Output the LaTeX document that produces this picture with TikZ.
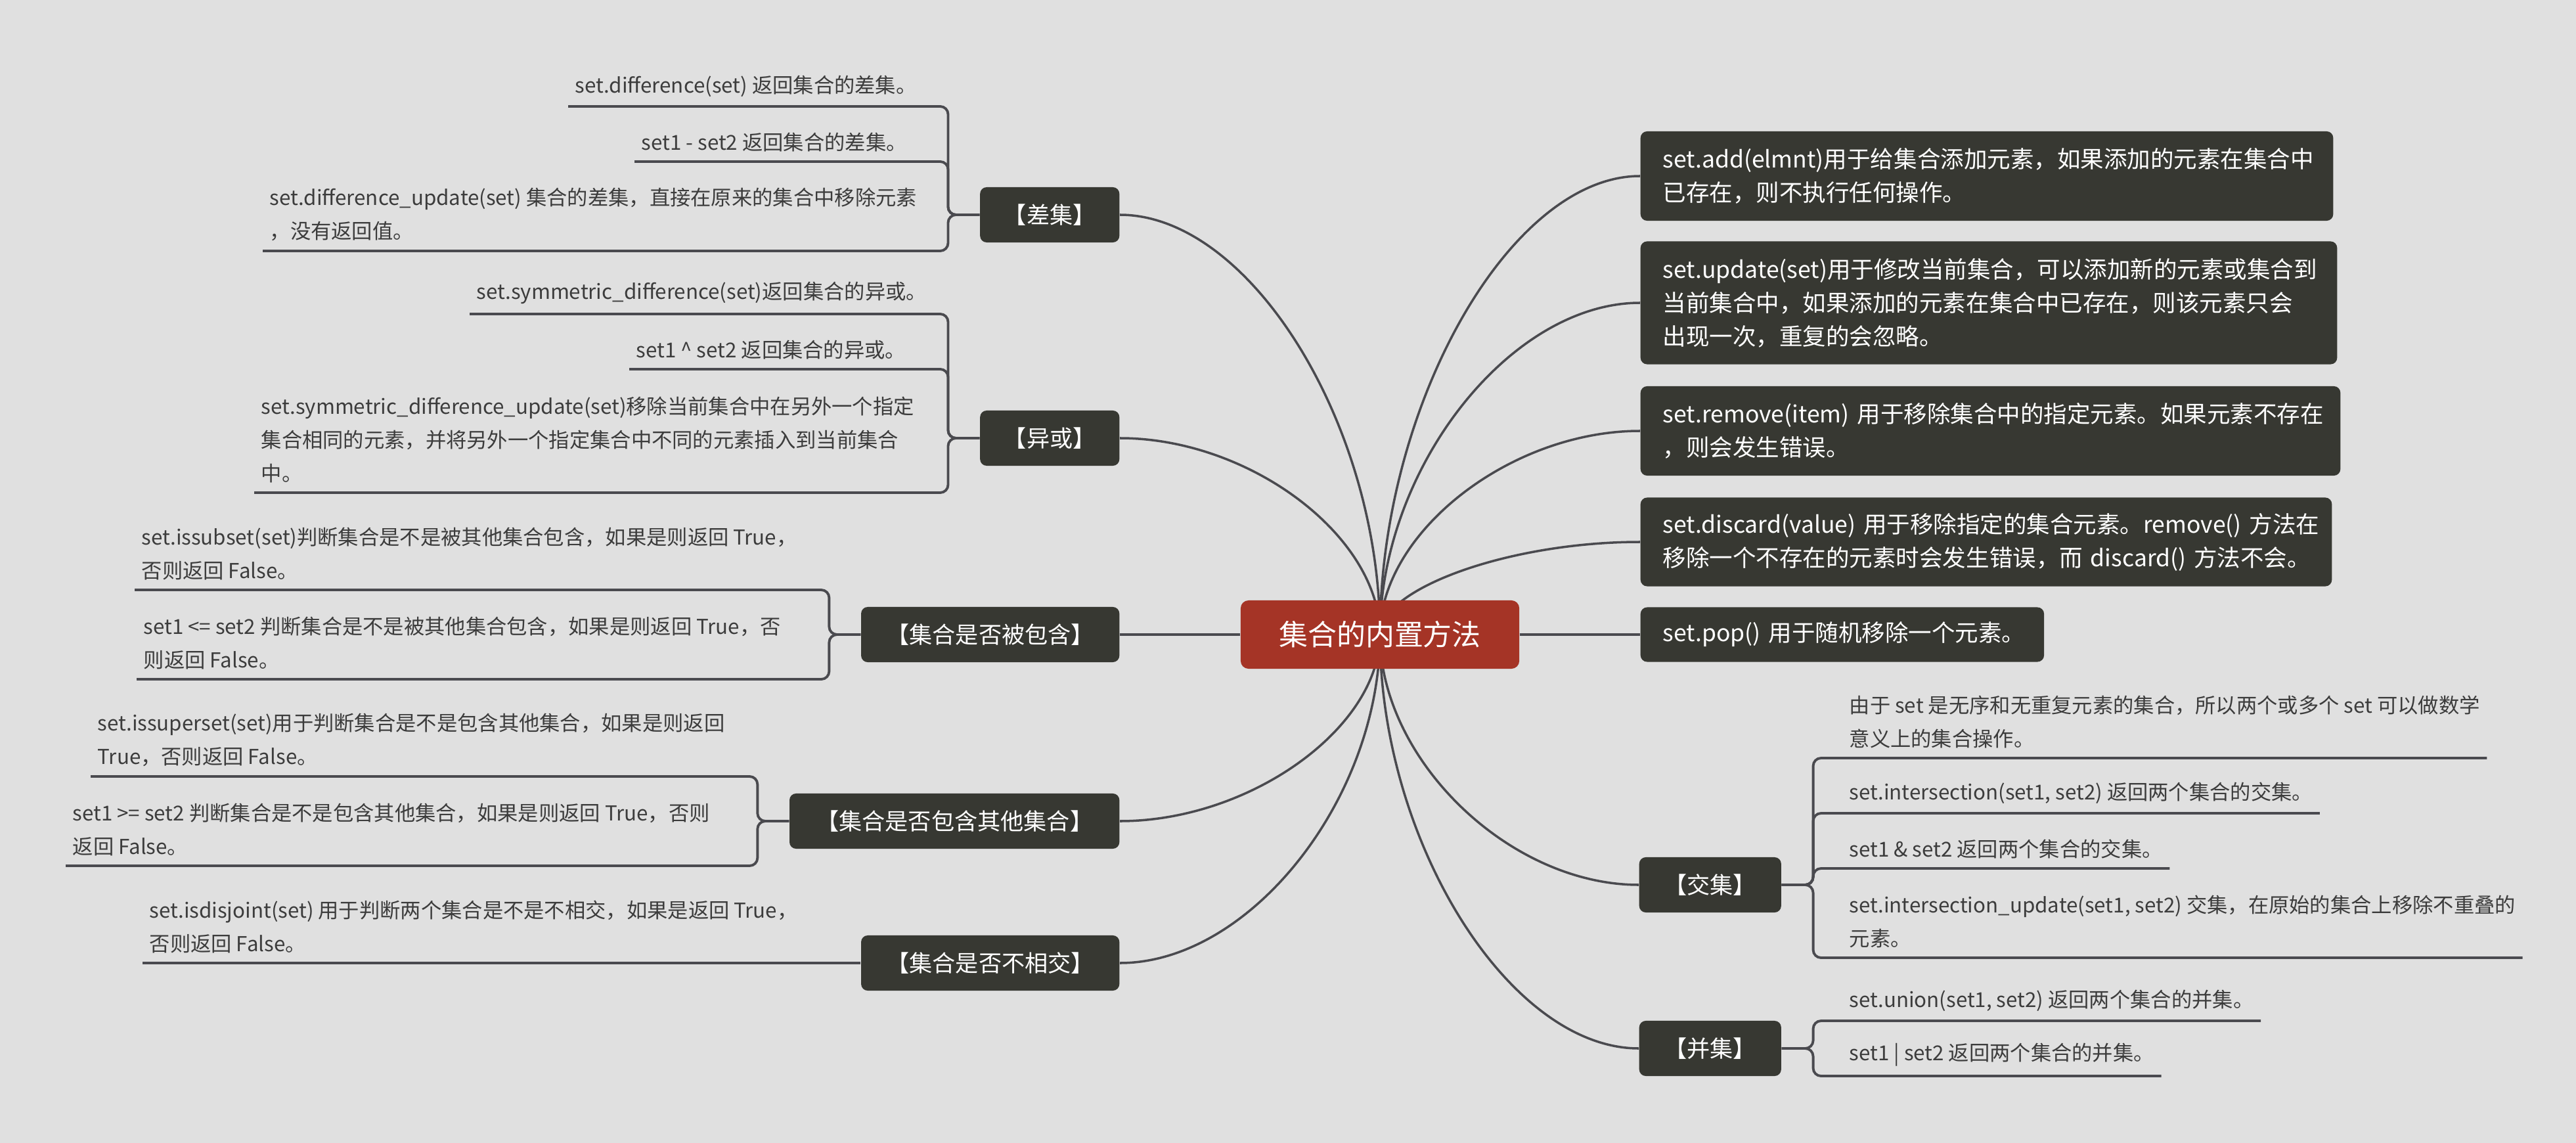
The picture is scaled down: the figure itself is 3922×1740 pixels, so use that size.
\documentclass[tikz,border=0pt]{standalone}
\usepackage{fontspec}
\setmainfont{Noto Sans CJK SC}
\usetikzlibrary{calc}
\hyphenpenalty=10000
\definecolor{paper}{HTML}{E0E0E0}
\definecolor{boxdark}{HTML}{373832}
\definecolor{rootred}{HTML}{A53426}
\definecolor{wire}{HTML}{4A4A4F}
\definecolor{ink}{HTML}{3C3C3C}
\pgfdeclarelayer{bg}
\pgfsetlayers{bg,main}
\begin{document}
\begin{tikzpicture}[x=0.01cm, y=-0.01cm,
  rootbox/.style={fill=rootred, text=white, rounded corners=0.12cm,
    minimum width=4.24cm, minimum height=1.04cm,
    font=\fontsize{12.5pt}{15pt}\selectfont},
  topicbox/.style={fill=boxdark, text=white, rounded corners=0.1cm, inner sep=0pt,
    minimum height=0.84cm, font=\fontsize{10pt}{12pt}\selectfont},
  notebox/.style={fill=boxdark, text=white, rounded corners=0.1cm, anchor=west,
    align=left, inner xsep=0.34cm, inner ysep=0pt,
    font=\fontsize{10.1pt}{14.5pt}\selectfont},
  leaftext/.style={text=ink, align=left, anchor=south west, inner xsep=0.1cm,
    inner ysep=0.14cm, font=\fontsize{8.9pt}{14.5pt}\selectfont},
  curvy/.style={to path={let \p1=(\tikztostart), \p2=(\tikztotarget) in
    .. controls (\x1,{(\y1+\y2)/2}) and ({(\x1+\x2)/2},\y2) .. (\tikztotarget)}},
  mainline/.style={draw=wire, line width=1pt},
  subline/.style={draw=wire, line width=1.1pt, rounded corners=0.12cm}]

  \begin{pgfonlayer}{bg}
    \fill[paper] (0,0) rectangle (3922,1740);
  \end{pgfonlayer}
  \useasboundingbox (0,0) rectangle (3922,1740);

  % 中心主题
  \node[rootbox] (root) at (2101,966) {集合的内置方法};

  % 右侧: 说明框
  \node[notebox, text width=9.86cm, minimum height=1.36cm] (add) at (2497,268)
    {set.add(elmnt)用于给集合添加元素，如果添加的元素在集合中\\已存在，则不执行任何操作。};
  \node[notebox, text width=9.92cm, minimum height=1.87cm] (upd) at (2497,461)
    {set.update(set)用于修改当前集合，可以添加新的元素或集合到\\当前集合中，如果添加的元素在集合中已存在，则该元素只会\\出现一次，重复的会忽略。};
  \node[notebox, text width=9.97cm, minimum height=1.36cm] (rem) at (2497,656)
    {set.remove(item)~用于移除集合中的指定元素。如果元素不存在\\，则会发生错误。};
  \node[notebox, text width=9.84cm, minimum height=1.35cm] (dis) at (2497,825)
    {set.discard(value)~用于移除指定的集合元素。remove()~方法在\\移除一个不存在的元素时会发生错误，而~discard()~方法不会。};
  \node[notebox, text width=5.46cm, minimum height=0.83cm] (pop) at (2497,966)
    {set.pop()~用于随机移除一个元素。};

  % 分支主题
  \node[topicbox, minimum width=2.12cm, anchor=east] (cha) at (1705,327) {【差集】};
  \node[topicbox, minimum width=2.12cm, anchor=east] (yih) at (1705,667) {【异或】};
  \node[topicbox, minimum width=3.93cm, anchor=east] (bei) at (1705,966) {【集合是否被包含】};
  \node[topicbox, minimum width=5.02cm, anchor=east] (bao) at (1705,1250) {【集合是否包含其他集合】};
  \node[topicbox, minimum width=3.93cm, anchor=east] (bxj) at (1705,1466) {【集合是否不相交】};
  \node[topicbox, minimum width=2.16cm, anchor=west] (jiao) at (2495,1347) {【交集】};
  \node[topicbox, minimum width=2.16cm, anchor=west] (bing) at (2495,1596) {【并集】};

  % 差集
  \node[leaftext] (cha1) at (865,162) {set.difference(set) 返回集合的差集。};
  \node[leaftext] (cha2) at (966,246) {set1 - set2 返回集合的差集。};
  \node[leaftext] (cha3) at (400,382)
    {set.difference\_update(set) 集合的差集，直接在原来的集合中移除元素\\，没有返回值。};
  % 异或
  \node[leaftext] (yih1) at (715,478) {set.symmetric\_difference(set)返回集合的异或。};
  \node[leaftext] (yih2) at (958,562) {set1 \textasciicircum{} set2 返回集合的异或。};
  \node[leaftext] (yih3) at (387,750)
    {set.symmetric\_difference\_update(set)移除当前集合中在另外一个指定\\集合相同的元素，并将另外一个指定集合中不同的元素插入到当前集合\\中。};
  % 子集 / 超集 / 不相交
  \node[leaftext] (bei1) at (205,898)
    {set.issubset(set)判断集合是不是被其他集合包含，如果是则返回 True，\\否则返回 False。};
  \node[leaftext] (bei2) at (208,1034)
    {set1 <= set2 判断集合是不是被其他集合包含，如果是则返回 True，否\\则返回 False。};
  \node[leaftext] (bao1) at (138,1182)
    {set.issuperset(set)用于判断集合是不是包含其他集合，如果是则返回\\True，否则返回 False。};
  \node[leaftext] (bao2) at (100,1318)
    {set1 >= set2 判断集合是不是包含其他集合，如果是则返回 True，否则\\返回 False。};
  \node[leaftext] (bxj1) at (217,1466)
    {set.isdisjoint(set) 用于判断两个集合是不是不相交，如果是返回 True，\\否则返回 False。};
  % 交集
  \node[leaftext] (jiao1) at (2805,1154)
    {由于 set 是无序和无重复元素的集合，所以两个或多个 set 可以做数学\\意义上的集合操作。};
  \node[leaftext] (jiao2) at (2805,1238) {set.intersection(set1, set2) 返回两个集合的交集。};
  \node[leaftext] (jiao3) at (2805,1322) {set1 \& set2 返回两个集合的交集。};
  \node[leaftext] (jiao4) at (2805,1458)
    {set.intersection\_update(set1, set2) 交集，在原始的集合上移除不重叠的\\元素。};
  % 并集
  \node[leaftext] (bing1) at (2805,1554) {set.union(set1, set2) 返回两个集合的并集。};
  \node[leaftext] (bing2) at (2805,1638) {set1 | set2 返回两个集合的并集。};

  % 中心到各分支的曲线 (放在底层, 被中心框遮住)
  \begin{pgfonlayer}{bg}
    \foreach \t in {add,upd,rem,dis,jiao,bing}
      \draw[mainline] (root.center) to[curvy] (\t.west);
    \foreach \t in {cha,yih,bao,bxj}
      \draw[mainline] (root.center) to[curvy] (\t.east);
  \end{pgfonlayer}
  \draw[mainline] (root.west) -- (bei.east);
  \draw[mainline] (root.east) -- (pop.west);

  % 子节点的括号线
  \foreach \c in {cha1,cha2,cha3}
    \draw[subline] (cha.west) -- ++(-48,0) |- (\c.south west);
  \foreach \c in {yih1,yih2,yih3}
    \draw[subline] (yih.west) -- ++(-48,0) |- (\c.south west);
  \foreach \c in {bei1,bei2}
    \draw[subline] (bei.west) -- ++(-48,0) |- (\c.south west);
  \foreach \c in {bao1,bao2}
    \draw[subline] (bao.west) -- ++(-48,0) |- (\c.south west);
  \draw[subline] (bxj.west) -- (bxj1.south west);
  \foreach \c in {jiao1,jiao2,jiao3,jiao4}
    \draw[subline] (jiao.east) -- ++(48,0) |- (\c.south east);
  \foreach \c in {bing1,bing2}
    \draw[subline] (bing.east) -- ++(48,0) |- (\c.south east);
\end{tikzpicture}
\end{document}
